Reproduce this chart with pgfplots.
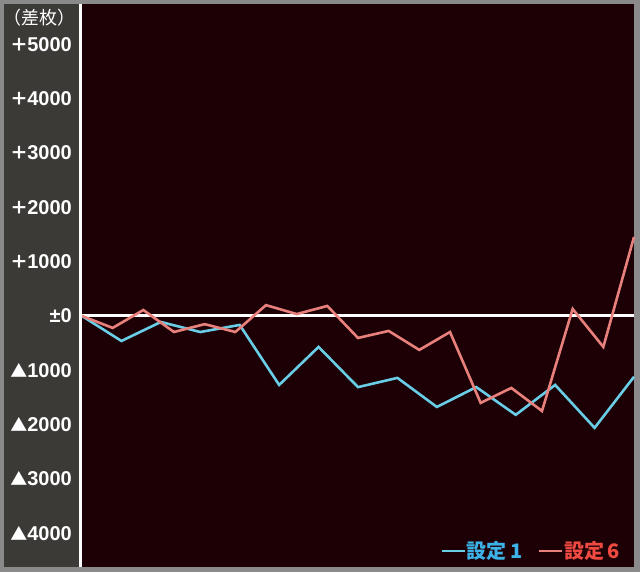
\documentclass[border=0pt]{standalone}
\usepackage{pgfplots}
\pgfplotsset{compat=1.18}
\usepackage{fontspec}
\setmainfont{Liberation Sans}
\newfontfamily\cjk{Noto Sans CJK JP}
\definecolor{outer}{HTML}{8A8A8A}
\definecolor{panel}{HTML}{3C3A37}
\definecolor{plotbg}{HTML}{1C0006}
\definecolor{c1}{HTML}{6ACDE6}
\definecolor{c6}{HTML}{E8807C}
\definecolor{t1}{HTML}{3DB2E6}
\definecolor{t6}{HTML}{EE4A42}
\newcommand{\tri}{{\cjk\fontsize{17}{17}\selectfont ▲}}
\newcommand{\pl}{{\cjk\bfseries\fontsize{18}{18}\selectfont ＋}\kern-1pt}
\begin{document}
\begin{tikzpicture}
\fill[outer] (0pt,0pt) rectangle (640pt,572pt);
\fill[panel] (4pt,5pt) rectangle (80pt,568pt);
\fill[plotbg] (80pt,5pt) rectangle (634pt,568pt);
\begin{axis}[
  at={(82pt,7pt)}, anchor=south west,
  scale only axis, width=552pt, height=561pt,
  xmin=0, xmax=18, ymin=-4586, ymax=5746,
  axis line style={draw=none},
  major tick length=0pt,
  xtick=\empty,
  ytick={5000,4000,3000,2000,1000,0,-1000,-2000,-3000,-4000},
  yticklabels={\pl5000,\pl4000,\pl3000,\pl2000,\pl1000,±0,\tri1000,\tri2000,\tri3000,\tri4000},
  yticklabel style={font=\fontsize{20}{20}\selectfont\bfseries, text=white, anchor=east, inner sep=0pt, xshift=-10pt},
  clip=false,
  legend columns=2,
  legend style={draw=none, fill=none, at={(0.976,0.006)}, anchor=south east,
    font=\cjk\fontsize{20}{20}\selectfont\bfseries, inner sep=0pt,
    nodes={inner sep=1pt},
    /tikz/every odd column/.append style={column sep=0pt},
    /tikz/every even column/.append style={column sep=14pt}},
  legend image code/.code={\draw[#1] (0pt,0pt) -- (23pt,0pt);},
]
\addplot[white, line width=3pt, forget plot] coordinates {(0,0) (18,0)};
\addplot[c1, line width=2.6pt, line join=miter] coordinates {
(0,0) (1.2857,-460) (2.5714,-110) (3.8571,-295) (5.1429,-165) (6.4286,-1270)
(7.7143,-570) (9,-1310) (10.2857,-1140) (11.5714,-1675) (12.8571,-1310)
(14.1429,-1820) (15.4286,-1270) (16.7143,-2060) (18,-1120)};
\addlegendentry{\textcolor{t1}{設定\,1}}
\addplot[c6, line width=2.6pt, line join=miter] coordinates {
(0,0) (1,-220) (2,110) (3,-295) (4,-150) (5,-295) (6,200) (7,35) (8,185)
(9,-405) (10,-275) (11,-625) (12,-295) (13,-1600) (14,-1325) (15,-1750)
(16,130) (17,-570) (18,1455)};
\addlegendentry{\textcolor{t6}{設定\,6}}
\end{axis}
\fill[white] (79pt,5pt) rectangle (81.5pt,568pt);
\node[anchor=east, text=white, font=\cjk\fontsize{18}{18}\selectfont, inner sep=0pt] at (76pt,554pt) {（差枚）};
\pgfresetboundingbox
\path[use as bounding box] (0pt,0pt) rectangle (640pt,572pt);
\end{tikzpicture}
\end{document}
